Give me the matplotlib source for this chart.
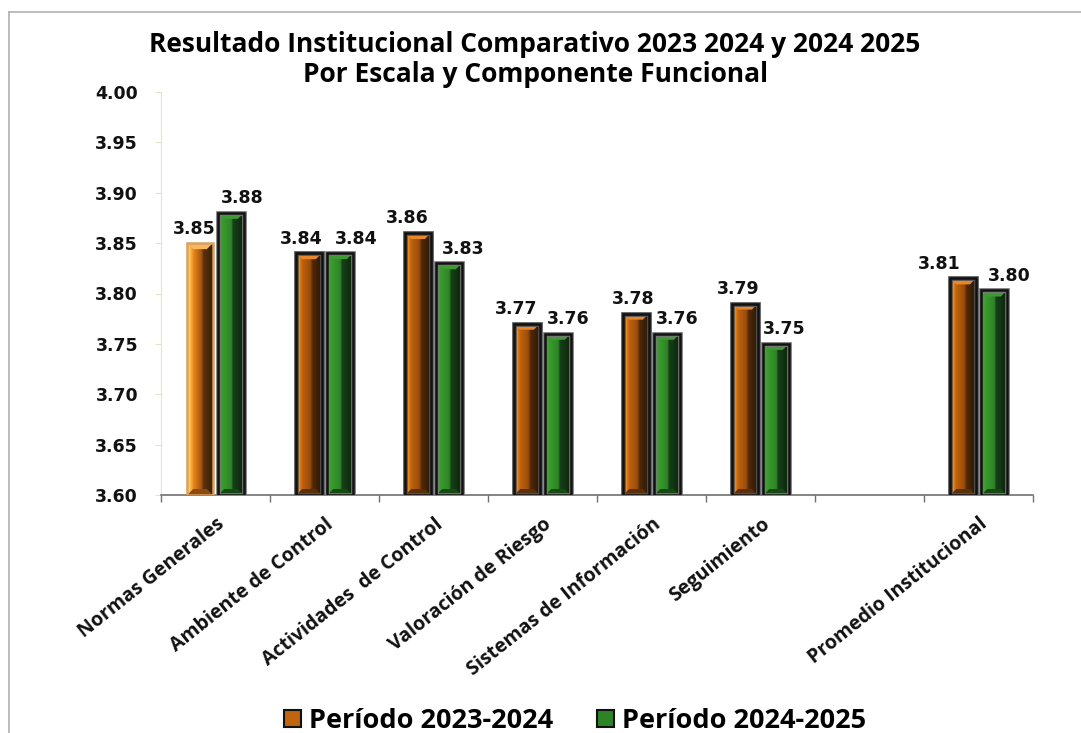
import numpy as np
import matplotlib
matplotlib.use("Agg")
import matplotlib.pyplot as plt
from matplotlib.colors import LinearSegmentedColormap
from matplotlib.patches import Polygon, Rectangle, Patch
from matplotlib.lines import Line2D
from matplotlib.transforms import offset_copy

# data
categories = ["Normas Generales", "Ambiente de Control", "Actividades  de Control",
              "Valoración de Riesgo", "Sistemas de Información", "Seguimiento",
              "", "Promedio Institucional"]
periodo_2324 = [3.85, 3.84, 3.86, 3.77, 3.78, 3.79, np.nan, 3.815]
periodo_2425 = [3.88, 3.84, 3.83, 3.76, 3.76, 3.75, np.nan, 3.803]
labels_2324 = ["3.85", "3.84", "3.86", "3.77", "3.78", "3.79", "", "3.81"]
labels_2425 = ["3.88", "3.84", "3.83", "3.76", "3.76", "3.75", "", "3.80"]
series_names = ["Período 2023-2024", "Período 2024-2025"]
y_ticks = [3.60, 3.65, 3.70, 3.75, 3.80, 3.85, 3.90, 3.95, 4.00]

# small horizontal nudges (points) for the value labels, as Excel placed them
nudge_2324 = [-4, -6, -8, -8, -2, -5, 0, -17]
nudge_2425 = [8, 12, 10, 7, 7, 6, 0, 11]

cmap_orange = LinearSegmentedColormap.from_list("o", [
    (0.0, "#ffd35a"), (0.10, "#f59424"), (0.22, "#c0640e"), (0.55, "#9c4c0a"),
    (0.65, "#4e2808"), (1.0, "#2e1804")])
cmap_orange_first = LinearSegmentedColormap.from_list("o1", [
    (0.0, "#fff2b0"), (0.10, "#ffc24a"), (0.25, "#e8861c"), (0.55, "#a85410"),
    (0.65, "#5a300a"), (1.0, "#3a2006")])
cmap_green = LinearSegmentedColormap.from_list("g", [
    (0.0, "#4fb243"), (0.15, "#3a9c2e"), (0.52, "#2d8424"), (0.58, "#15401a"),
    (1.0, "#0c2608")])

fig = plt.figure(figsize=(10.81, 7.33), dpi=100)
ax = fig.add_axes([161 / 1081, 1 - 495 / 733, 872 / 1081, 403 / 733])

x = np.arange(len(categories))
w = 0.235
off = 0.142
ymin, ymax = 3.60, 4.00

bars1 = ax.bar(x - off, periodo_2324, w, color="none", edgecolor="none")
bars2 = ax.bar(x + off, periodo_2425, w, color="none", edgecolor="none")

bx = 6 / 109
by = 6 * (ymax - ymin) / 403
grad = np.linspace(0, 1, 64).reshape(1, -1)


def draw_bar(p, cmap, top_col, bot_col, edge, outer=None):
    h = p.get_height()
    if np.isnan(h):
        return
    x0, bw = p.get_x(), p.get_width()
    x1 = x0 + bw
    ax.imshow(grad, cmap=cmap, aspect="auto", extent=[x0, x1, ymin, h],
              zorder=2, interpolation="bilinear")
    ax.add_patch(Polygon([(x0, h), (x1, h), (x1 - bx, h - by), (x0 + bx, h - by)],
                         closed=True, facecolor=top_col, edgecolor="none", zorder=3))
    ax.add_patch(Polygon([(x0, ymin), (x1, ymin), (x1 - bx, ymin + by), (x0 + bx, ymin + by)],
                         closed=True, facecolor=bot_col, edgecolor="none", zorder=3))
    if outer is not None:
        ax.add_patch(Rectangle((x0, ymin), bw, h - ymin, facecolor="none",
                               edgecolor=outer, linewidth=3.4, zorder=4))
    ax.add_patch(Rectangle((x0, ymin), bw, h - ymin, facecolor="none",
                           edgecolor=edge, linewidth=1.8, zorder=5))


for i, p in enumerate(bars1):
    if i == 0:
        draw_bar(p, cmap_orange_first, "#f7b860", "#8a4a10", "#d9a060")
    else:
        draw_bar(p, cmap_orange, "#e8862a", "#5a300a", "#111111", outer="#555555")
for p in bars2:
    draw_bar(p, cmap_green, "#3f9a35", "#174a12", "#111111", outer="#777777")

# value labels
num_font = dict(family="DejaVu Sans", fontweight="bold", fontsize=12.5, color="#111111")
for p, lab, dx in zip(bars1, labels_2324, nudge_2324):
    if lab:
        ax.annotate(lab, (p.get_x() + p.get_width() / 2, p.get_height()),
                    xytext=(dx, 4), textcoords="offset points",
                    ha="center", va="bottom", zorder=6, **num_font)
for p, lab, dx in zip(bars2, labels_2425, nudge_2425):
    if lab:
        ax.annotate(lab, (p.get_x() + p.get_width() / 2, p.get_height()),
                    xytext=(dx, 4), textcoords="offset points",
                    ha="center", va="bottom", zorder=6, **num_font)

ax.set_xlim(-0.5, len(categories) - 0.5)
ax.set_ylim(ymin, ymax)
ax.set_yticks(y_ticks)
ax.set_yticklabels([f"{t:.2f}" for t in y_ticks], **num_font)
ax.tick_params(axis="y", length=4, color="#e6e2cc", pad=12.5)

ax.set_xticks(np.arange(len(categories) + 1) - 0.5)
ax.set_xticklabels([])
ax.tick_params(axis="x", length=5, color="#707070", width=1)

tr = offset_copy(ax.get_xaxis_transform(), fig=fig, x=10, y=-31, units="dots")
for xi, lab in zip(x, categories):
    ax.text(xi, 0, lab, transform=tr, rotation=38.5, rotation_mode="anchor",
            ha="right", va="baseline", family="Open Sans", fontweight="bold",
            fontsize=14, color="#111111")

for s in ["top", "right"]:
    ax.spines[s].set_visible(False)
ax.spines["left"].set_color("#e6e2cc")
ax.spines["bottom"].set_color("#707070")
ax.spines["bottom"].set_linewidth(1.2)
ax.set_facecolor("none")

fig.text(0.495, 1 - 45 / 733, "Resultado Institucional Comparativo 2023 2024 y 2024 2025",
         ha="center", va="center", family="Open Sans", fontweight="bold", fontsize=19)
fig.text(0.495, 1 - 75 / 733, "Por Escala y Componente Funcional",
         ha="center", va="center", family="Open Sans", fontweight="bold", fontsize=19)

handles = [Patch(facecolor="#c0640e", edgecolor="#111111", linewidth=1.5),
           Patch(facecolor="#2d8424", edgecolor="#111111", linewidth=1.5)]
fig.legend(handles, series_names, loc="center", bbox_to_anchor=(0.532, 1 - 721 / 733),
           ncol=2, frameon=False, prop=dict(family="Open Sans", weight="bold", size=19.5),
           handlelength=0.62, handleheight=0.62, handletextpad=0.3, columnspacing=1.6)

# outer chart border (only top and left are visible)
fig.add_artist(Line2D([9 / 1081, 9 / 1081], [0, 1 - 12 / 733], transform=fig.transFigure,
                      color="#b0b0b0", linewidth=1.2))
fig.add_artist(Line2D([9 / 1081, 1], [1 - 12 / 733, 1 - 12 / 733], transform=fig.transFigure,
                      color="#b0b0b0", linewidth=1.2))

fig.savefig("out.png", dpi=100)
